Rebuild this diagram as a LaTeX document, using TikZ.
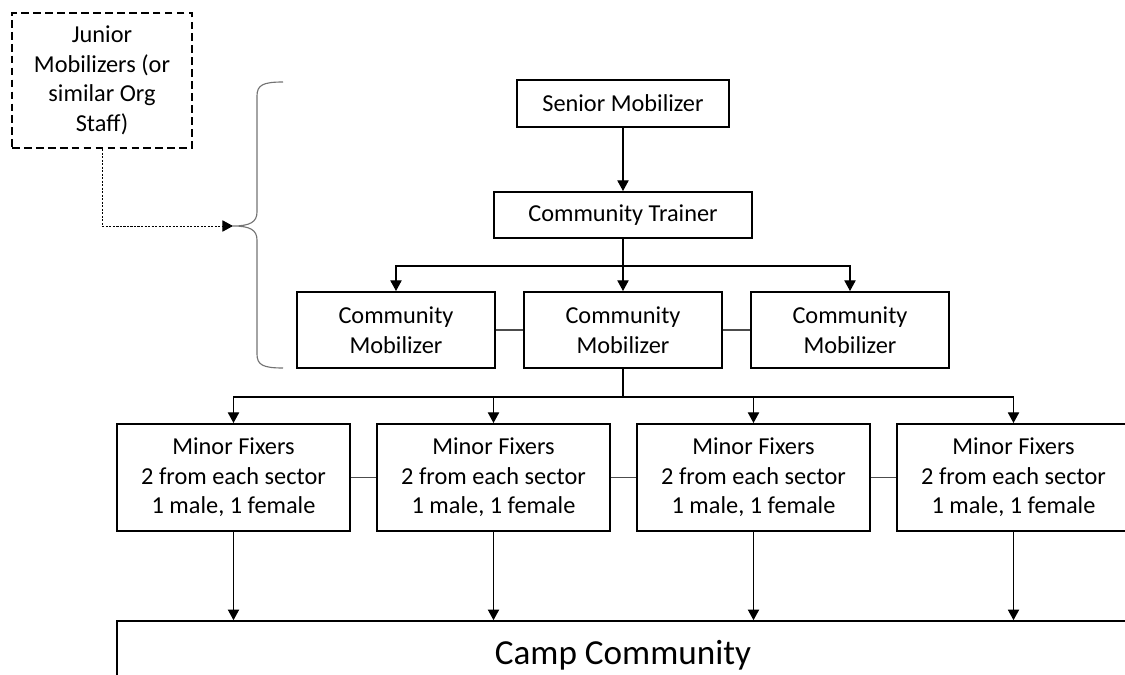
\documentclass[tikz,border=0pt]{standalone}
\usepackage{fontspec}
\setmainfont{Carlito}
\usetikzlibrary{arrows.meta, positioning}

\begin{document}
\begin{tikzpicture}[x=0.025cm, y=-0.025cm,
    font=\fontsize{17.3}{21}\selectfont,
    box/.style={draw, line width=1.4pt, align=center, inner sep=0pt},
    link/.style={line width=0.75pt, -{Triangle[width=8pt,length=7.5pt]}},
    tie/.style={line width=0.75pt, draw=black!70}]
  \useasboundingbox (0,0) rectangle (1125,675);
  \clip (0,0) rectangle (1125,675);

  % junior staff, off the main chart
  \node[box, dash pattern=on 5.5pt off 3pt, minimum width=4.5cm,
        minimum height=3.375cm] (junior) at (102,80.5)
    {Junior\\Mobilizers (or\\similar Org\\Staff)};
  \coordinate (bracetip) at (233,226);
  \draw[line width=0.8pt, black!55] (283,82) .. controls (263,82) and (257,85) .. (257,96)
    -- (257,212) .. controls (257,222) and (250,226) .. (bracetip)
    .. controls (250,226) and (257,230) .. (257,240)
    -- (257,354) .. controls (257,365) and (263,368) .. (283,368);
  \draw[link, line width=0.6pt, dash pattern=on 1.5pt off 1pt] (junior.south) |- (bracetip);

  \node[box, minimum width=5.3cm, minimum height=1.175cm] (senior) at (623,103.5)
    {Senior Mobilizer};
  \node[box, minimum width=6.425cm, minimum height=1.15cm] (trainer) at (623,215)
    {Community Trainer};
  \draw[link] (senior) -- (trainer);

  \foreach \i/\xpos in {1/396, 2/623, 3/850}
    \node[box, minimum width=4.925cm, minimum height=1.9cm] (cm\i) at (\xpos,330)
      {Community\\Mobilizer};
  \coordinate (bus1) at (623,266);
  \foreach \i in {1,2,3}
    \draw[link] (trainer.south) -- (bus1) -| (cm\i.north);
  \draw[tie] (cm1) -- (cm2);
  \draw[tie] (cm2) -- (cm3);

  \foreach \i/\xpos in {1/233.5, 2/493.5, 3/753.5, 4/1013.5}
    \node[box, minimum width=5.8cm, minimum height=2.675cm] (mf\i) at (\xpos,477.5)
      {Minor Fixers\\2 from each sector\\1 male, 1 female};
  \coordinate (bus2) at (623,397);
  \foreach \i in {1,...,4}
    \draw[link] (cm2.south) -- (bus2) -| (mf\i.north);
  \foreach \i/\j in {1/2, 2/3, 3/4}
    \draw[tie] (mf\i) -- (mf\j);

  \node[draw, line width=1.2pt, minimum width=25.3cm, minimum height=1.725cm,
        font=\fontsize{25}{30}\selectfont] (camp) at (623,655.5) {Camp Community};
  \foreach \i in {1,...,4}
    \draw[link] (mf\i.south) -- (mf\i.south |- camp.north);
\end{tikzpicture}
\end{document}
